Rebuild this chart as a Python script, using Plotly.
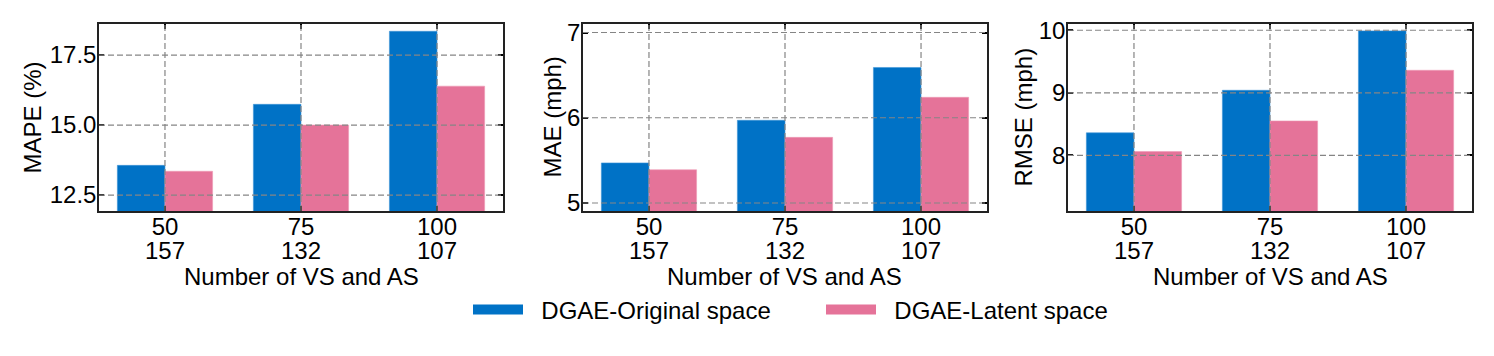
import plotly.graph_objects as go
from plotly.subplots import make_subplots

# --data--
vs_counts = ["50", "75", "100"]
as_counts = ["157", "132", "107"]
series_names = ["DGAE-Original space", "DGAE-Latent space"]

mape_orig = [13.56, 15.74, 18.35]
mape_latent = [13.35, 15.00, 16.39]
mae_orig = [5.47, 5.97, 6.59]
mae_latent = [5.39, 5.77, 6.24]
rmse_orig = [8.36, 9.04, 9.99]
rmse_latent = [8.06, 8.55, 9.36]

y_titles = ["MAPE (%)", "MAE (mph)", "RMSE (mph)"]
y_ranges = [[11.93, 18.61], [4.906, 7.10], [7.11, 10.10]]
y_ticks = [[12.5, 15.0, 17.5], [5, 6, 7], [8, 9, 10]]
y_fmt = [".1f", "d", "d"]

BLUE = "#0072c6"
PINK = "#e57399"
GRID = "#858585"
FONT = "Liberation Sans, Arial, sans-serif"
FS = 24

# page body has an 8px margin, so work in window pixels and shift
OFF = 8
W, H = 1494 - 2 * OFF, 356 - 2 * OFF


def px(x):
    return (x - OFF) / W


def py(y):
    return 1 - (y - OFF) / H


x_doms = [(99, 503), (583, 987), (1068, 1472)]
ytitle_x = [32, 552, 1023]
y_dom = [py(211), py(24)]

fig = make_subplots(rows=1, cols=3)

panels = [(mape_orig, mape_latent), (mae_orig, mae_latent), (rmse_orig, rmse_latent)]
xs = [0, 1, 2]
for i, (orig, lat) in enumerate(panels):
    fig.add_trace(go.Bar(x=xs, y=orig, name=series_names[0], marker_color=BLUE,
                         marker_line=dict(width=0.6, color="#3f95d6"), showlegend=False),
                  row=1, col=i + 1)
    fig.add_trace(go.Bar(x=xs, y=lat, name=series_names[1], marker_color=PINK,
                         marker_line=dict(width=0.6, color="#ee9ab6"), showlegend=False),
                  row=1, col=i + 1)

# legend entries drawn as thick lines so the swatches come out wide
for name, col in zip(series_names, [BLUE, PINK]):
    fig.add_trace(go.Scatter(x=[None], y=[None], mode="lines", name="\u00a0\u00a0" + name,
                             line=dict(color=col, width=16)), row=1, col=1)

axis_common = dict(showline=True, linecolor="#222222", linewidth=1.5, mirror="ticks",
                   ticks="inside", ticklen=5, tickwidth=1.5, tickcolor="black",
                   showgrid=False, zeroline=False, automargin=False, layer="above traces",
                   tickfont=dict(size=FS, color="black", family=FONT))

grid_line = dict(color=GRID, width=1.2, dash="6px,3px")

for i in range(3):
    n = "" if i == 0 else str(i + 1)
    x0, x1 = x_doms[i]
    fig.layout["xaxis" + n].update(
        domain=[px(x0), px(x1)], range=[-0.485, 2.485],
        tickvals=xs, ticktext=vs_counts, ticklabelstandoff=-7, **axis_common)
    fig.layout["yaxis" + n].update(
        domain=y_dom, range=y_ranges[i], tickvals=y_ticks[i], tickformat=y_fmt[i],
        ticklabelstandoff=-4, **axis_common)
    # grid drawn above the bars, as in the reference
    for yv in y_ticks[i]:
        fig.add_shape(type="line", xref="x" + n + " domain", x0=0, x1=1,
                      yref="y" + n, y0=yv, y1=yv, line=grid_line, layer="above")
    for xv in xs:
        fig.add_shape(type="line", xref="x" + n, x0=xv, x1=xv,
                      yref="y" + n + " domain", y0=0, y1=1, line=grid_line, layer="above")
    # second line of the tick labels, and axis titles
    for x, t in zip(xs, as_counts):
        fig.add_annotation(x=x, xref="x" + n, y=py(250), yref="paper", text=t,
                           showarrow=False, xanchor="center", yanchor="middle",
                           font=dict(size=FS, color="black", family=FONT))
    fig.add_annotation(x=px((x0 + x1) / 2), xref="paper", y=py(276), yref="paper",
                       text="Number of VS and AS", showarrow=False,
                       xanchor="center", yanchor="middle",
                       font=dict(size=FS, color="black", family=FONT))
    fig.add_annotation(x=px(ytitle_x[i]), xref="paper", y=(y_dom[0] + y_dom[1]) / 2,
                       yref="paper", text=y_titles[i], showarrow=False, textangle=-90,
                       xanchor="center", yanchor="middle",
                       font=dict(size=FS, color="black", family=FONT))

fig.update_layout(
    width=W, height=H,
    margin=dict(l=0, r=0, t=0, b=0),
    barmode="group", bargap=0.3, bargroupgap=0,
    plot_bgcolor="white", paper_bgcolor="white",
    font=dict(family=FONT, size=FS, color="black"),
    legend=dict(orientation="h", x=px(468), xanchor="left", y=py(310),
                yanchor="middle", font=dict(size=FS, color="black", family=FONT),
                itemwidth=50, entrywidth=288, traceorder="normal"),
)

fig.write_html("out.html")
